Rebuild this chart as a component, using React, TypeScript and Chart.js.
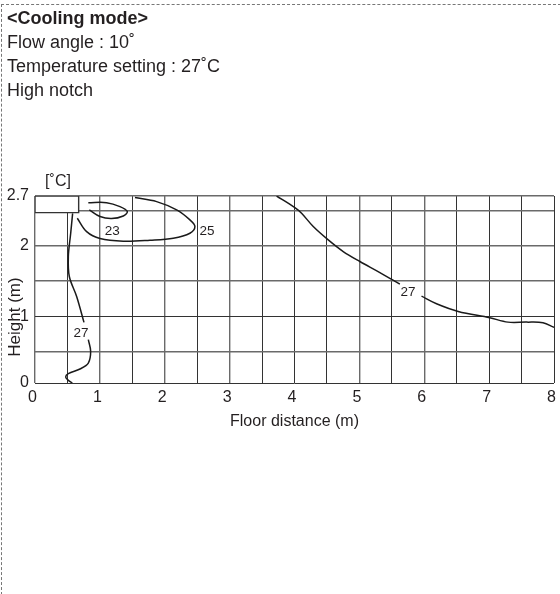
import React, { useEffect, useRef } from "react";
import { Chart, registerables } from "chart.js";

Chart.register(...registerables);

const headerTitle = "<Cooling mode>";
const headerLines = ["Flow angle : 10˚", "Temperature setting : 27˚C", "High notch"];

const xAxisTitle = "Floor distance (m)";
const yAxisTitle = "Height (m)";
const unitLabel = "[˚C]";

const yGridValues = [0, 0.451, 0.961, 1.47, 1.98, 2.49, 2.7];
const yGridLabels = ["0", "", "1", "", "2", "", "2.7"];

const curve23X = [0.822, 1.104, 1.31, 1.423, 1.361, 1.181, 1.002, 0.837];
const curve23Y = [2.604, 2.604, 2.547, 2.475, 2.412, 2.374, 2.403, 2.499];

const curve25X = [1.541, 1.875, 2.183, 2.388, 2.465, 2.388, 2.131, 1.772, 1.361, 1.002, 0.796, 0.652];
const curve25Y = [2.677, 2.619, 2.499, 2.355, 2.259, 2.162, 2.09, 2.061, 2.047, 2.086, 2.186, 2.379];

const curve27LeftUpperX = [0.58, 0.55, 0.514, 0.529, 0.642, 0.755];
const curve27LeftUpperY = [2.45, 2.16, 1.826, 1.538, 1.249, 0.875];

const curve27LeftLowerX = [0.822, 0.858, 0.822, 0.693, 0.514, 0.473, 0.514, 0.575];
const curve27LeftLowerY = [0.625, 0.457, 0.288, 0.202, 0.135, 0.086, 0.038, 0];

const curve27RightUpperX = [3.724, 4.006, 4.109, 4.289, 4.52, 4.751, 5.008, 5.316, 5.624];
const curve27RightUpperY = [2.7, 2.532, 2.451, 2.259, 2.066, 1.898, 1.754, 1.595, 1.427];

const curve27RightLowerX = [5.958, 6.189, 6.523, 7.01, 7.29, 7.58, 7.83, 8];
const curve27RightLowerY = [1.254, 1.144, 1.033, 0.942, 0.879, 0.879, 0.87, 0.803];

const unitBoxX = [0, 0.673, 0.673, 0, 0];
const unitBoxY = [2.7, 2.7, 2.46, 2.46, 2.7];

const curveLabels = [
  { text: "23", x: 1.19, y: 2.19 },
  { text: "25", x: 2.65, y: 2.19 },
  { text: "27", x: 0.71, y: 0.72 },
  { text: "27", x: 5.75, y: 1.31 },
];

const INK = "#231f20";
const DARK = "#333333";
const GRAY = "#6a6a6a";
const FONT = "'Liberation Sans', Arial, sans-serif";

const zip = (xs: number[], ys: number[]) => xs.map((x, i) => ({ x, y: ys[i] }));

const curve = (xs: number[], ys: number[]) => ({
  data: zip(xs, ys),
  showLine: true,
  borderColor: "#1a1a1a",
  borderWidth: 1.5,
  pointRadius: 0,
  tension: 0.35,
  fill: false,
});

const textPlugin = {
  id: "curveText",
  afterDatasetsDraw(chart: any) {
    const { ctx, scales } = chart;
    const { x, y } = scales;
    ctx.save();
    ctx.fillStyle = INK;
    ctx.textAlign = "center";
    ctx.textBaseline = "middle";
    ctx.font = `13.5px ${FONT}`;
    curveLabels.forEach((l) => ctx.fillText(l.text, x.getPixelForValue(l.x), y.getPixelForValue(l.y)));
    ctx.font = `16px ${FONT}`;
    ctx.fillText(unitLabel, 58, 182);
    ctx.translate(15, 317);
    ctx.rotate(-Math.PI / 2);
    ctx.font = `17px ${FONT}`;
    ctx.fillText(yAxisTitle, 0, 0);
    ctx.restore();
  },
};

export default function App() {
  const ref = useRef<HTMLCanvasElement>(null);

  useEffect(() => {
    const chart = new Chart(ref.current as HTMLCanvasElement, {
      type: "scatter",
      data: {
        datasets: [
          {
            data: zip(unitBoxX, unitBoxY),
            showLine: true,
            borderColor: "#333333",
            borderWidth: 1.4,
            backgroundColor: "#ffffff",
            pointRadius: 0,
            tension: 0,
            fill: "shape",
          },
          curve(curve23X, curve23Y),
          curve(curve25X, curve25Y),
          curve(curve27LeftUpperX, curve27LeftUpperY),
          curve(curve27LeftLowerX, curve27LeftLowerY),
          curve(curve27RightUpperX, curve27RightUpperY),
          curve(curve27RightLowerX, curve27RightLowerY),
        ] as any,
      },
      options: {
        responsive: false,
        animation: false,
        layout: { padding: { left: 0, top: 196, right: 6, bottom: 0 } },
        plugins: { legend: { display: false }, tooltip: { enabled: false } },
        scales: {
          x: {
            type: "linear",
            min: 0,
            max: 8,
            afterFit: (s: any) => {
              s.height = 211;
              s.paddingRight = 0;
              s.paddingLeft = 0;
            },
            grid: {
              drawTicks: false,
              lineWidth: (c: any) => (c.index % 2 === 1 || c.index >= 14 || c.index === 8 ? 1 : 1.4),
              color: (c: any) => (c.index % 2 === 1 || c.index >= 14 || c.index === 8 ? DARK : GRAY),
            },
            border: { display: false },
            ticks: {
              stepSize: 0.5,
              autoSkip: false,
              maxRotation: 0,
              padding: 5,
              labelOffset: -2.5,
              color: INK,
              font: { family: FONT, size: 16 },
              callback: (v: any) => (Number.isInteger(v) ? String(v) : ""),
            },
            title: {
              display: true,
              text: xAxisTitle,
              color: INK,
              font: { family: FONT, size: 16 },
              padding: { top: 0, bottom: 163 },
            },
          },
          y: {
            type: "linear",
            min: 0,
            max: 2.7,
            afterFit: (s: any) => {
              s.width = 35;
              s.paddingTop = 0;
              s.paddingBottom = 0;
            },
            afterBuildTicks: (s: any) => {
              s.ticks = yGridValues.map((value) => ({ value }));
            },
            grid: {
              drawTicks: false,
              lineWidth: (c: any) => (c.index === 0 || c.index === 2 ? 1 : 1.4),
              color: (c: any) => (c.index === 0 || c.index === 2 ? DARK : GRAY),
            },
            border: { display: false },
            ticks: {
              autoSkip: false,
              padding: 6,
              color: INK,
              font: { family: FONT, size: 16 },
              callback: (v: any) => {
                const i = yGridValues.indexOf(v);
                return i >= 0 ? yGridLabels[i] : "";
              },
            },
          },
        },
      } as any,
      plugins: [textPlugin],
    });
    return () => chart.destroy();
  }, []);

  return (
    <div style={{ position: "fixed", left: 0, top: 0, width: 560, height: 594, background: "#fff", overflow: "hidden" }}>
      <div
        style={{
          position: "absolute",
          left: 1,
          top: 4,
          width: 559,
          height: 590,
          borderTop: "1px dashed #777",
          borderLeft: "1px dashed #777",
        }}
      />
      <canvas ref={ref} width={560} height={594} style={{ position: "absolute", left: 0, top: 0, display: "block" }} />
      <div
        style={{
          position: "absolute",
          left: 7,
          top: 6,
          fontFamily: FONT,
          fontSize: 18,
          lineHeight: "24px",
          color: INK,
          whiteSpace: "pre",
        }}
      >
        <div style={{ fontWeight: "bold" }}>{headerTitle}</div>
        {headerLines.map((l) => (
          <div key={l}>{l}</div>
        ))}
      </div>
    </div>
  );
}
